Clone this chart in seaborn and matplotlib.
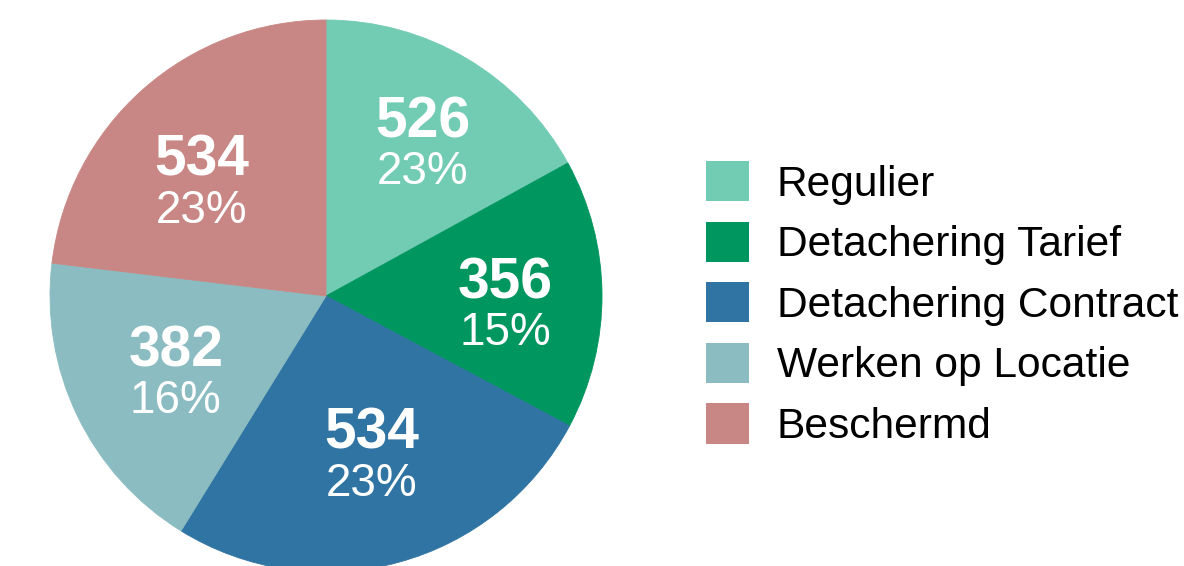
import numpy as np
import matplotlib
matplotlib.use("Agg")
import matplotlib.pyplot as plt
from matplotlib.patches import Patch
import seaborn as sns

# ---- data ----
categories = ["Regulier", "Detachering Tarief", "Detachering Contract",
              "Werken op Locatie", "Beschermd"]
counts = [526, 356, 534, 382, 534]
pct_labels = ["23%", "15%", "23%", "16%", "23%"]
# slice shares as drawn in the picture (percent of the circle)
slice_shares = [17.0, 15.8, 26.0, 18.1, 23.1]
colors = ["#72CBB3", "#009660", "#3074A3", "#8BBCC1", "#C88785"]

# ---- layout (label placement tweaks) ----
label_radius = [0.663, 0.649, 0.587, 0.605, 0.618]
label_angle_shift = [-1.2, -2.1, 1.1, 0.2, 5.1]

sns.set_theme(style="white")
plt.rcParams["font.family"] = ["Liberation Sans", "DejaVu Sans"]
palette = sns.color_palette(colors)

W, H = 1184, 566
fig = plt.figure(figsize=(W / 100, H / 100), dpi=100)
cx, cy, R = 326, 566 - 296, 276
ax = fig.add_axes([(cx - R) / W, (cy - R) / H, 2 * R / W, 2 * R / H])

wedges, _ = ax.pie(slice_shares, colors=palette, startangle=90,
                   counterclock=False, radius=1,
                   wedgeprops=dict(linewidth=0.6))
for w in wedges:
    w.set_edgecolor(w.get_facecolor())
ax.set_xlim(-1, 1)
ax.set_ylim(-1, 1)
ax.set_aspect("auto")
ax.axis("off")

for w, n, p, r, da in zip(wedges, counts, pct_labels, label_radius, label_angle_shift):
    ang = np.deg2rad((w.theta1 + w.theta2) / 2 + da)
    x, y = r * np.cos(ang), r * np.sin(ang)
    ax.annotate(str(n), (x, y), xytext=(0, 3), textcoords="offset pixels",
                ha="center", va="baseline", color="white",
                fontsize=41, fontweight="bold")
    ax.annotate(p, (x, y), xytext=(0, -44), textcoords="offset pixels",
                ha="center", va="baseline", color="white", fontsize=33)

handles = [Patch(facecolor=c, edgecolor="none") for c in palette]
leg = fig.legend(handles, categories, loc="center left",
                 bbox_to_anchor=(706 / W, (566 - 304) / H),
                 frameon=False, fontsize=30.6, handlelength=1.0,
                 handleheight=1.08, handletextpad=0.66, labelspacing=0.40,
                 borderpad=0, borderaxespad=0)
for t in leg.get_texts():
    t.set_color("black")

fig.savefig("out.png", dpi=100)
